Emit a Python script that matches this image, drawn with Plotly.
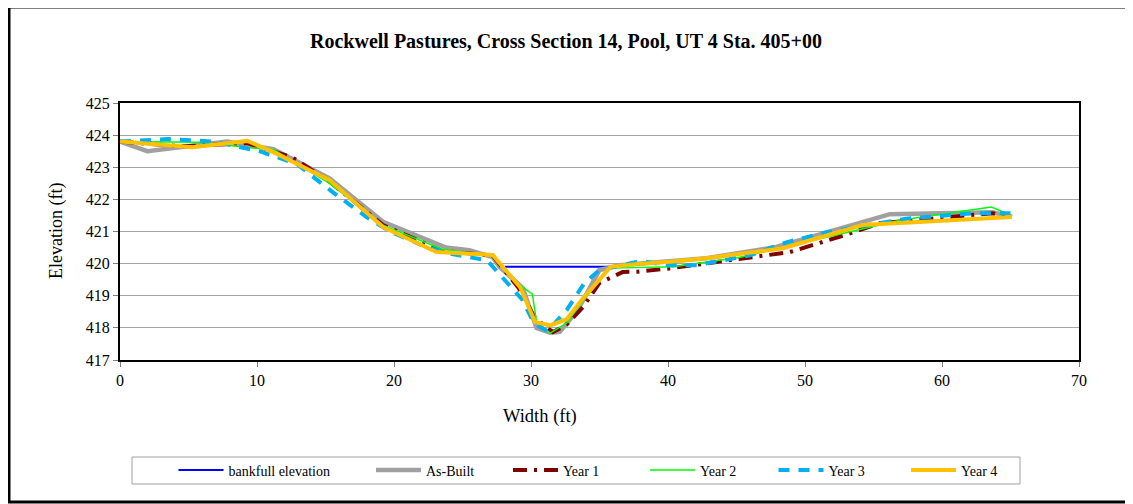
import plotly.graph_objects as go

# ---- data ----
bankfull_x = [28.1, 35.8]
bankfull_y = [419.9, 419.9]

asbuilt_x = [0, 2, 7.8, 11.2, 15.3, 19.2, 23.8, 25.5, 27.2, 27.7, 29.4, 30.4, 31.4, 32.1, 33.4, 35.0, 36.5, 38.0, 42.8, 47.7, 56.2, 63.7, 65.1]
asbuilt_y = [423.8, 423.5, 423.8, 423.56, 422.65, 421.3, 420.5, 420.42, 420.2, 419.9, 419.24, 418.0, 417.85, 417.88, 418.55, 419.8, 419.95, 420.0, 420.17, 420.5, 421.54, 421.6, 421.45]

year1_x = [0, 4.5, 9.3, 11.2, 12.6, 15.3, 19.2, 23.5, 27.2, 29.1, 30.3, 31.6, 32.6, 33.8, 35.0, 36.7, 37.8, 40.1, 45.0, 46.2, 48.9, 53.0, 55.5, 63.7, 65.1]
year1_y = [423.8, 423.65, 423.75, 423.5, 423.3, 422.55, 421.2, 420.4, 420.25, 419.24, 418.3, 417.87, 418.1, 418.65, 419.4, 419.74, 419.75, 419.85, 420.14, 420.2, 420.36, 420.9, 421.26, 421.57, 421.45]

year2_x = [0, 5.8, 9.7, 11.2, 15.3, 19.2, 23.5, 27.2, 29.2, 30.1, 30.4, 31.4, 32.6, 33.9, 35.8, 40.4, 45.3, 56.9, 63.6, 65.1]
year2_y = [423.8, 423.78, 423.6, 423.55, 422.5, 421.2, 420.45, 420.25, 419.33, 419.05, 418.2, 417.84, 418.15, 418.9, 419.86, 419.9, 420.2, 421.35, 421.76, 421.5]

year3_x = [0, 3.5, 6.8, 10.2, 12.9, 16.0, 18.0, 19.7, 21.9, 23.8, 26.8, 28.3, 29.4, 30.2, 31.2, 32.6, 33.9, 35.0, 38.0, 40.1, 42.1, 46.0, 48.7, 51.6, 57.4, 62.3, 65.0]
year3_y = [423.8, 423.88, 423.8, 423.5, 423.1, 422.07, 421.45, 421.0, 420.6, 420.33, 420.1, 419.4, 418.86, 418.15, 417.9, 418.55, 419.4, 419.8, 420.08, 419.95, 419.95, 420.26, 420.67, 420.98, 421.4, 421.57, 421.57]

year4_x = [0, 5.3, 9.3, 11.2, 15.3, 19.2, 23.1, 27.2, 29.2, 30.3, 31.4, 32.6, 33.8, 35.8, 38.0, 40.1, 42.8, 48.4, 54.2, 65.1]
year4_y = [423.8, 423.62, 423.82, 423.47, 422.6, 421.14, 420.36, 420.27, 419.27, 418.18, 418.08, 418.27, 418.92, 419.9, 420.0, 420.06, 420.17, 420.48, 421.2, 421.45]

series_names = ["bankfull elevation", "As-Built", "Year 1", "Year 2", "Year 3", "Year 4"]
title_text = "Rockwell Pastures, Cross Section 14, Pool, UT 4 Sta. 405+00"
x_title = "Width (ft)"
y_title = "Elevation (ft)"

FONT = "Liberation Serif, Times New Roman, serif"
OFF = 8  # page body margin offset
W, H = 1133 - OFF, 504 - OFF
L, R, T, B = 120 - OFF, 54, 103 - OFF, 144
pw, ph = W - L - R, H - T - B


def px_x(p):
    return (p - OFF - L) / pw


def px_y(p):
    return 1 - (p - OFF - T) / ph


styles = [
    dict(color="#0000FF", width=2),
    dict(color="#A0A0A0", width=4.5),
    dict(color="#800000", width=4, dash="14px,7px,3px,7px"),
    dict(color="#00FF00", width=1.5),
    dict(color="#00B0F0", width=4, dash="11px,9px"),
    dict(color="#FFC000", width=4),
]
xs = [bankfull_x, asbuilt_x, year1_x, year2_x, year3_x, year4_x]
ys = [bankfull_y, asbuilt_y, year1_y, year2_y, year3_y, year4_y]
legend_ids = ["legend", "legend2", "legend3", "legend4", "legend5", "legend6"]
legend_px = [173.5, 371, 508, 645, 773.5, 906]

fig = go.Figure()
for xv, yv, nm, st, lg in zip(xs, ys, series_names, styles, legend_ids):
    fig.add_trace(go.Scatter(x=xv, y=yv, mode="lines", name=nm, line=st, legend=lg))

shapes = [
    dict(type="rect", xref="paper", yref="paper",
         x0=px_x(9), x1=px_x(1145), y0=px_y(502), y1=px_y(7),
         line=dict(color="black", width=3), layer="below"),
    dict(type="rect", xref="paper", yref="paper",
         x0=px_x(132), x1=px_x(1020), y0=px_y(484), y1=px_y(457),
         line=dict(color="#A0A0A0", width=1), layer="below"),
]

annotations = [
    dict(text="<b>" + title_text + "</b>", xref="paper", yref="paper",
         x=px_x(566), y=px_y(41), showarrow=False, xanchor="center", yanchor="middle",
         font=dict(family=FONT, size=20, color="black")),
    dict(text=x_title, xref="paper", yref="paper",
         x=px_x(540), y=px_y(416), showarrow=False, xanchor="center", yanchor="middle",
         font=dict(family=FONT, size=18.5, color="black")),
    dict(text=y_title, xref="paper", yref="paper", textangle=-90,
         x=px_x(56), y=px_y(231), showarrow=False, xanchor="center", yanchor="middle",
         font=dict(family=FONT, size=18, color="black")),
]

layout_legends = {}
for lg, lx in zip(legend_ids, legend_px):
    layout_legends[lg] = dict(
        orientation="h", x=px_x(lx), y=px_y(470.5), xanchor="left", yanchor="middle",
        bgcolor="rgba(0,0,0,0)", borderwidth=0, itemwidth=45,
        font=dict(family=FONT, size=14, color="black"))

fig.update_layout(
    width=W, height=H,
    margin=dict(l=L, r=R, t=T, b=B),
    paper_bgcolor="white", plot_bgcolor="white",
    font=dict(family=FONT, size=16, color="black"),
    showlegend=True,
    shapes=shapes,
    annotations=annotations,
    xaxis=dict(range=[0, 70], dtick=10, showgrid=False, zeroline=False,
               showline=True, linecolor="black", linewidth=2, mirror=True,
               ticks="outside", ticklen=5, tickcolor="#808080",
               tickfont=dict(family=FONT, size=16, color="black")),
    yaxis=dict(range=[417, 425], dtick=1, showgrid=True, gridcolor="#A6A6A6", gridwidth=1,
               zeroline=False, showline=True, linecolor="black", linewidth=2, mirror=True,
               ticks="outside", ticklen=5, tickcolor="#808080",
               tickfont=dict(family=FONT, size=16, color="black")),
    **layout_legends,
)

fig.write_html("out.html")
